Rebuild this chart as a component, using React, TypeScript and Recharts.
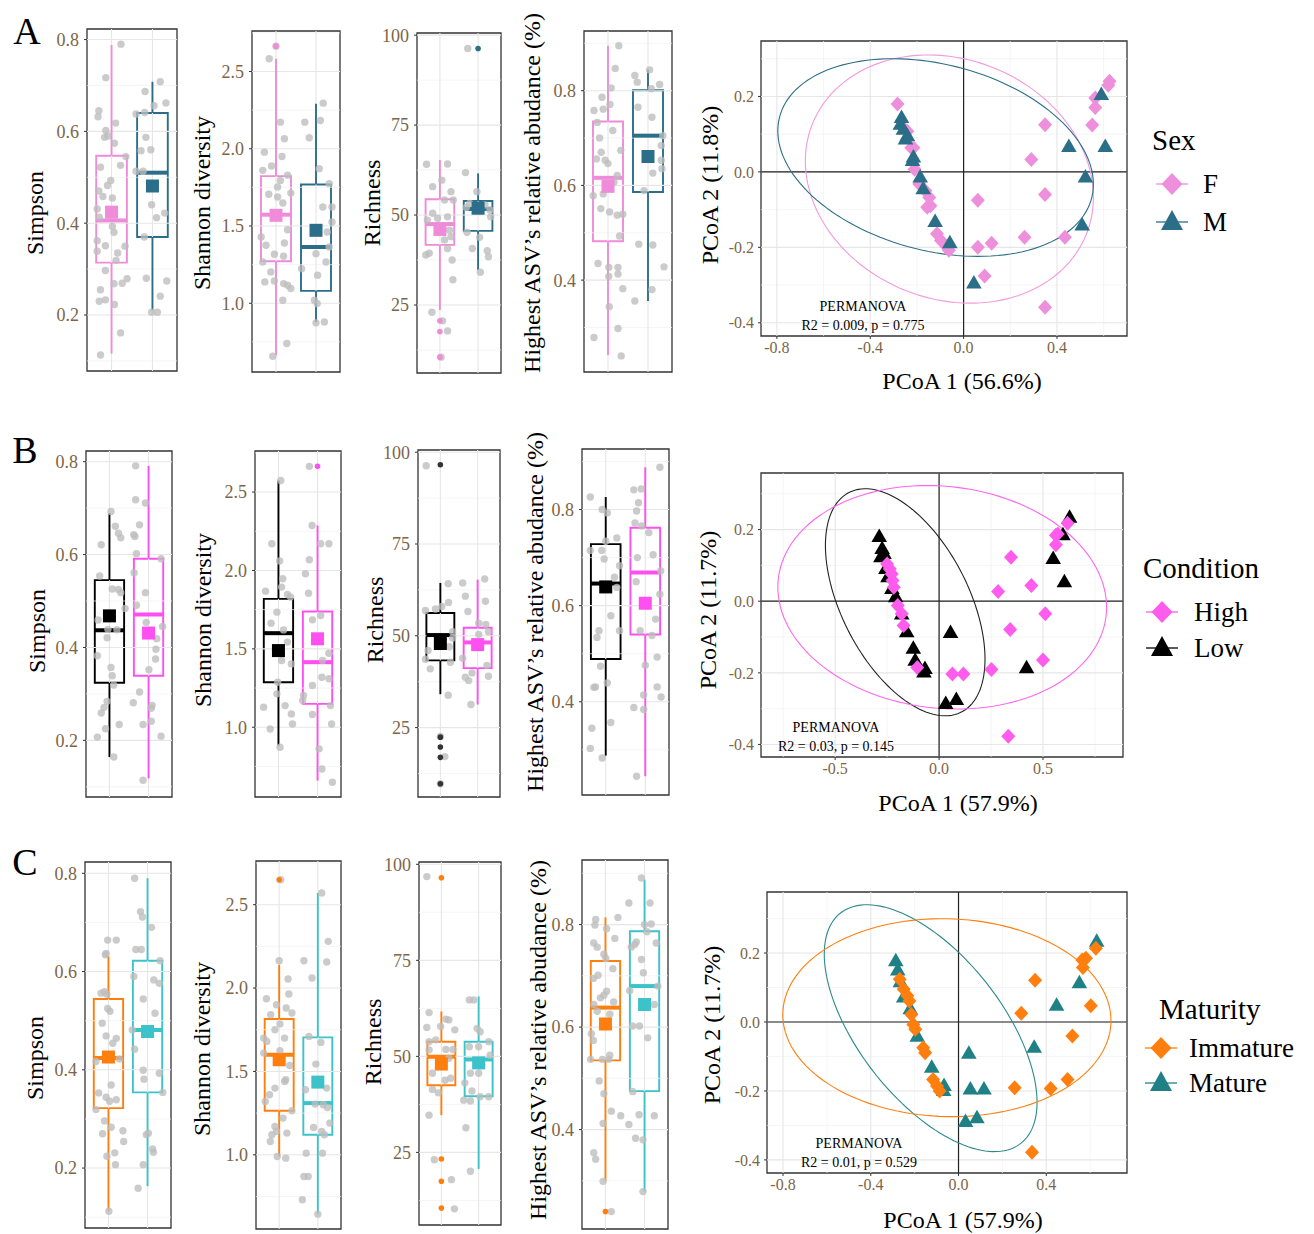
import React from 'react';
import { ComposedChart, XAxis, YAxis, Scatter, ReferenceLine, ReferenceArea } from 'recharts';

const SERIF = '"Liberation Serif", "DejaVu Serif", "Times New Roman", serif';
const TICK_COLOR = '#7D6547';

type Stat = { lo: number; q1: number; med: number; q3: number; hi: number; mean: number };
type Pt = [number, number];

// ---------------- metric axes ----------------
const metricLabels = ['Simpson', 'Shannon diversity', 'Richness', 'Highest ASV\u2019s relative abudance (%)'];
const metricDomains: [number, number][] = [[0.078, 0.823], [0.555, 2.762], [6.1, 100.6], [0.206, 0.926]];
const metricTicks = [[0.2, 0.4, 0.6, 0.8], [1.0, 1.5, 2.0, 2.5], [25, 50, 75, 100], [0.4, 0.6, 0.8]];
const metricMinor = [[0.1, 0.3, 0.5, 0.7], [0.75, 1.25, 1.75, 2.25, 2.75], [12.5, 37.5, 62.5, 87.5], [0.3, 0.5, 0.7, 0.9]];

// ---------------- Row A (Sex: F, M) ----------------
const boxColorsA = ['#F08BD9', '#2C6E8A'];
const simpsonStatsA: Stat[] = [
  { lo: 0.116, q1: 0.314, med: 0.406, q3: 0.547, hi: 0.788, mean: 0.424 },
  { lo: 0.21, q1: 0.37, med: 0.51, q3: 0.64, hi: 0.708, mean: 0.481 },
];
const simpsonPtsA: Pt[][] = [
  [[0.23,0.79],[-0.14,0.717],[-0.31,0.645],[-0.33,0.632],[0.1,0.618],[-0.14,0.602],[-0.17,0.587],[-0.09,0.59],[0.07,0.574],[0.35,0.545],[-0.27,0.522],[0.22,0.526],[-0.02,0.493],[-0.1,0.482],[-0.31,0.47],[-0.21,0.458],[0.02,0.455],[-0.35,0.431],[-0.3,0.413],[0.02,0.393],[0.06,0.38],[-0.35,0.362],[-0.15,0.351],[0.33,0.35],[0.15,0.335],[-0.35,0.339],[0.11,0.319],[-0.15,0.297],[0.38,0.279],[0.26,0.269],[0.06,0.268],[-0.27,0.255],[-0.3,0.23],[-0.15,0.233],[0.07,0.223],[0.22,0.161],[-0.27,0.113]],
  [[0.19,0.708],[-0.18,0.687],[-0.19,0.641],[0.04,0.656],[0.33,0.662],[-0.4,0.638],[-0.16,0.587],[-0.28,0.558],[-0.04,0.56],[-0.23,0.513],[-0.4,0.513],[-0.02,0.44],[0.1,0.412],[0.3,0.422],[-0.2,0.37],[-0.15,0.28],[0.35,0.274],[0.19,0.241],[-0.02,0.206],[0.12,0.206]],
];
const shannonStatsA: Stat[] = [
  { lo: 0.664, q1: 1.272, med: 1.573, q3: 1.823, hi: 2.582, mean: 1.569 },
  { lo: 0.879, q1: 1.08, med: 1.364, q3: 1.769, hi: 2.291, mean: 1.472 },
];
const shannonPtsA: Pt[][] = [
  [[0,2.664],[-0.17,2.582],[0.11,2.172],[0.21,2.065],[-0.29,1.978],[0.15,1.95],[-0.11,1.888],[-0.33,1.86],[0.29,1.828],[0.11,1.795],[0.04,1.752],[-0.18,1.705],[0.37,1.713],[0.04,1.688],[0.17,1.649],[0.29,1.476],[-0.37,1.429],[0.21,1.39],[-0.25,1.375],[-0.04,1.317],[0.19,1.304],[-0.33,1.267],[-0.13,1.203],[-0.28,1.138],[-0.04,1.144],[0.19,1.127],[0.29,1.116],[0.37,1.095],[0.17,1.019],[0.27,0.739],[-0.08,0.657]],
  [[-0.28,2.172],[0.11,2.183],[0.18,2.295],[-0.17,2.071],[0.08,1.871],[0.33,1.774],[0.17,1.623],[0.4,1.623],[0.4,1.526],[0.28,1.461],[0.33,1.364],[0,1.321],[-0.36,1.224],[0.25,1.267],[0.04,1.181],[-0.04,1.019],[0.03,0.998],[0.21,0.879],[0,0.873]],
];
const richnessStatsA: Stat[] = [
  { lo: 23.6, q1: 41.7, med: 47.5, q3: 54.4, hi: 65.3, mean: 46.0 },
  { lo: 34.7, q1: 45.6, med: 51.7, q3: 53.9, hi: 61.6, mean: 51.9 },
];
const richnessPtsA: Pt[][] = [
  [[-0.35,64.1],[-0.19,57.9],[0.05,59.7],[0.2,64.2],[0.29,56.5],[0.12,54.2],[-0.19,50.5],[-0.33,48.6],[-0.06,49.1],[0.2,49.5],[0.25,45.8],[0.12,43.1],[0.2,40.7],[-0.28,39.4],[-0.37,38.9],[0.29,44],[0.32,37.5],[0.34,32],[-0.21,23],[0.07,20.6],[0.2,17.8],[0.03,10.5],[0.35,54.2]],
  [[-0.33,61.8],[-0.03,56.5],[-0.31,52.1],[-0.22,53.2],[0.18,52.8],[0.31,51.4],[0.33,49.5],[-0.29,45.2],[0.04,43.8],[-0.15,40.7],[0.24,40.1],[0.27,38.4],[0.06,34.1],[-0.27,96.3]],
];
const richnessOutA = [[20.6, 17.6, 10.5], [96.3]];
const asvStatsA: Stat[] = [
  { lo: 0.242, q1: 0.482, med: 0.616, q3: 0.735, hi: 0.895, mean: 0.598 },
  { lo: 0.356, q1: 0.586, med: 0.705, q3: 0.801, hi: 0.844, mean: 0.661 },
];
const asvPtsA: Pt[][] = [
  [[0.27,0.895],[0.18,0.847],[0.08,0.806],[-0.15,0.786],[-0.35,0.758],[-0.12,0.761],[0.05,0.771],[0.12,0.716],[-0.27,0.733],[-0.21,0.7],[-0.17,0.67],[-0.07,0.653],[0,0.646],[-0.29,0.656],[0.32,0.674],[0.23,0.621],[0.15,0.607],[-0.12,0.582],[-0.37,0.578],[-0.18,0.551],[0.04,0.544],[0.23,0.537],[0.37,0.539],[0.29,0.493],[-0.25,0.435],[0.02,0.427],[0.25,0.427],[0.02,0.408],[0.25,0.413],[0.37,0.382],[0.03,0.344],[0.25,0.298],[-0.35,0.279],[0.33,0.24]],
  [[-0.33,0.832],[0.04,0.844],[-0.27,0.818],[0.08,0.804],[0.29,0.813],[-0.25,0.765],[0.1,0.744],[0.37,0.705],[0.33,0.684],[0.33,0.653],[0.35,0.635],[0.12,0.626],[-0.1,0.589],[-0.23,0.476],[0.12,0.474],[0.1,0.38],[-0.33,0.356],[0.4,0.428]],
];

// ---------------- Row B (Condition: Low, High) ----------------
const boxColorsB = ['#000000', '#FF4FF0'];
const simpsonStatsB: Stat[] = [
  { lo: 0.164, q1: 0.324, med: 0.437, q3: 0.545, hi: 0.689, mean: 0.468 },
  { lo: 0.118, q1: 0.339, med: 0.471, q3: 0.591, hi: 0.791, mean: 0.431 },
];
const simpsonPtsB: Pt[][] = [
  [[-0.21,0.621],[0.04,0.693],[0.15,0.661],[0.23,0.646],[0.29,0.636],[-0.25,0.554],[0.07,0.526],[0.23,0.525],[0.29,0.518],[0.4,0.484],[-0.29,0.459],[-0.04,0.439],[0.19,0.438],[-0.06,0.421],[-0.31,0.382],[0.04,0.357],[0.07,0.339],[0.11,0.319],[-0.06,0.284],[-0.14,0.271],[-0.21,0.259],[-0.1,0.225],[-0.31,0.207],[0.25,0.234],[0.11,0.164]],
  [[-0.33,0.791],[-0.33,0.718],[-0.08,0.711],[-0.38,0.643],[-0.35,0.639],[-0.23,0.664],[-0.37,0.561],[-0.31,0.602],[-0.08,0.518],[-0.31,0.491],[0.32,0.591],[0.36,0.445],[-0.06,0.454],[0.21,0.419],[0.19,0.396],[0.18,0.375],[0.01,0.352],[-0.23,0.304],[-0.39,0.281],[0.09,0.275],[0.07,0.269],[0.07,0.241],[-0.14,0.234],[0.32,0.209],[-0.14,0.114]],
];
const shannonStatsB: Stat[] = [
  { lo: 0.883, q1: 1.287, med: 1.6, q3: 1.819, hi: 2.574, mean: 1.489 },
  { lo: 0.66, q1: 1.149, med: 1.415, q3: 1.738, hi: 2.287, mean: 1.564 },
];
const shannonPtsB: Pt[][] = [
  [[0.06,2.574],[-0.17,2.17],[0.03,2.06],[0.11,1.947],[0.08,1.894],[-0.33,1.868],[-0.04,1.734],[0.23,1.847],[0.31,1.83],[0.13,1.621],[-0.19,1.664],[0.23,1.543],[0.08,1.426],[0.33,1.404],[-0.02,1.287],[-0.04,1.213],[-0.38,1.128],[0.17,1.138],[0.33,1.085],[-0.21,0.989],[0.36,1.021],[0.04,0.872]],
  [[-0.21,2.664],[-0.14,2.287],[-0.21,2.068],[-0.31,1.979],[-0.23,1.855],[0.08,2.17],[0.29,2.17],[0.08,1.713],[-0.13,1.685],[0.29,1.472],[0.13,1.426],[0.11,1.319],[0.29,1.309],[-0.13,1.266],[-0.36,1.202],[-0.38,1.17],[-0.13,1.081],[0.36,1.021],[0.33,1.138],[0.04,0.862],[0.11,0.734],[0.38,0.649]],
];
const shannonOutB = [[], [2.664]];
const richnessStatsB: Stat[] = [
  { lo: 34.1, q1: 43.3, med: 50.2, q3: 56.2, hi: 64.4, mean: 47.9 },
  { lo: 31.3, q1: 41.2, med: 48.2, q3: 52.2, hi: 65.3, mean: 47.6 },
];
const richnessPtsB: Pt[][] = [
  [[-0.38,96.3],[0.21,64.2],[-0.13,57.3],[-0.4,56.9],[0.04,58],[0.22,59.1],[0.33,51.1],[0.33,49.4],[0.24,47],[-0.33,46],[-0.4,43.6],[0.27,42.8],[-0.27,41],[0.21,33.8],[0,22.6],[0.12,17.1],[0,9.7]],
  [[-0.4,64.4],[-0.33,60.8],[0.19,65.5],[0.21,59.4],[-0.26,56.6],[0.03,53.4],[0.22,53.1],[0.29,51.1],[0.03,50.4],[-0.4,43.9],[-0.33,38.7],[-0.24,37.8],[-0.15,39.9],[0.25,41.9],[0.29,39],[-0.18,31.3]],
];
const richnessOutB = [[96.6, 22.4, 19.7, 16.9, 9.7], []];
const asvStatsB: Stat[] = [
  { lo: 0.288, q1: 0.489, med: 0.646, q3: 0.728, hi: 0.826, mean: 0.639 },
  { lo: 0.245, q1: 0.54, med: 0.669, q3: 0.762, hi: 0.888, mean: 0.605 },
];
const asvPtsB: Pt[][] = [
  [[-0.39,0.826],[-0.09,0.8],[0.04,0.793],[0.28,0.741],[0,0.734],[-0.1,0.715],[-0.04,0.697],[-0.39,0.715],[0.35,0.683],[0.22,0.659],[0.28,0.638],[0.13,0.579],[-0.17,0.548],[-0.22,0.534],[0.35,0.548],[-0.13,0.474],[0.04,0.439],[-0.3,0.43],[-0.26,0.431],[0.13,0.357],[-0.35,0.345],[-0.39,0.303],[-0.09,0.283]],
  [[0.37,0.888],[-0.29,0.841],[-0.1,0.843],[-0.17,0.814],[-0.22,0.797],[-0.26,0.772],[-0.09,0.766],[0.09,0.752],[-0.2,0.7],[0.2,0.706],[-0.23,0.65],[0.39,0.672],[0.37,0.624],[0.26,0.572],[-0.13,0.548],[0.17,0.538],[0.3,0.493],[0,0.476],[0.3,0.431],[0.4,0.41],[-0.04,0.414],[-0.29,0.388],[-0.04,0.384],[-0.22,0.245]],
];

// ---------------- Row C (Maturity: Immature, Mature) ----------------
const boxColorsC = ['#FF7F0E', '#3CC3CA'];
const simpsonStatsC: Stat[] = [
  { lo: 0.112, q1: 0.322, med: 0.424, q3: 0.544, hi: 0.631, mean: 0.426 },
  { lo: 0.163, q1: 0.354, med: 0.481, q3: 0.622, hi: 0.79, mean: 0.478 },
];
const simpsonPtsC: Pt[][] = [
  [[-0.02,0.664],[0.2,0.664],[-0.06,0.637],[-0.08,0.634],[-0.1,0.559],[-0.19,0.556],[-0.04,0.554],[-0.02,0.525],[0.04,0.519],[-0.16,0.495],[-0.06,0.469],[0.2,0.464],[0.11,0.454],[0.28,0.422],[-0.32,0.417],[0.07,0.369],[-0.25,0.353],[-0.06,0.344],[0.2,0.339],[0.03,0.336],[-0.32,0.319],[-0.1,0.296],[0.07,0.283],[-0.15,0.27],[0.37,0.276],[0.39,0.254],[0.16,0.231],[-0.04,0.224],[0.18,0.207],[0.01,0.112]],
  [[-0.33,0.79],[-0.18,0.722],[-0.13,0.711],[0.1,0.69],[-0.3,0.645],[-0.16,0.645],[0.32,0.622],[-0.35,0.59],[0.16,0.583],[0.3,0.576],[-0.11,0.544],[0.19,0.515],[-0.39,0.481],[-0.33,0.442],[-0.11,0.399],[-0.09,0.381],[0.3,0.393],[0.39,0.354],[-0.03,0.268],[0.02,0.271],[0.13,0.239],[0.15,0.232],[-0.11,0.207],[-0.24,0.159]],
];
const shannonStatsC: Stat[] = [
  { lo: 0.99, q1: 1.264, med: 1.6, q3: 1.814, hi: 2.14, mean: 1.57 },
  { lo: 0.644, q1: 1.12, med: 1.31, q3: 1.704, hi: 2.57, mean: 1.436 },
];
const shannonPtsC: Pt[][] = [
  [[0.04,2.65],[0,2.164],[0.23,2.054],[-0.33,1.936],[0.25,1.964],[-0.07,1.9],[0.18,1.88],[0.33,1.85],[-0.22,1.84],[0.02,1.784],[-0.11,1.75],[-0.4,1.7],[0.14,1.7],[-0.32,1.68],[-0.4,1.61],[0.02,1.624],[0.27,1.536],[0.17,1.45],[0.14,1.44],[-0.11,1.4],[-0.25,1.36],[-0.36,1.32],[0.33,1.264],[0.1,1.22],[-0.11,1.17],[-0.07,1.14],[-0.19,1.12],[0.2,1.13],[-0.23,1.08],[-0.05,0.99],[0.17,0.98]],
  [[0.1,2.57],[0.27,2.28],[-0.36,2.164],[0.23,2.156],[-0.15,2.06],[-0.23,1.71],[0.08,1.674],[-0.05,1.544],[0.23,1.4],[-0.32,1.39],[-0.07,1.304],[0.14,1.3],[0.25,1.284],[0.31,1.19],[-0.11,1.164],[0.1,1.14],[0.17,1.12],[0.12,1.01],[-0.3,1.01],[-0.25,0.87],[-0.36,0.87],[-0.4,0.73],[0,0.644]],
];
const shannonOutC = [[2.65], []];
const richnessStatsC: Stat[] = [
  { lo: 34.7, q1: 42.5, med: 49.9, q3: 53.8, hi: 61.7, mean: 48.0 },
  { lo: 20.7, q1: 39.6, med: 49.2, q3: 53.8, hi: 65.6, mean: 48.3 },
];
const richnessPtsC: Pt[][] = [
  [[-0.39,96.8],[-0.33,61.4],[0.12,59.7],[0.2,59.5],[-0.39,57.5],[-0.02,57.8],[0.36,56.9],[-0.33,53.8],[-0.15,54.3],[0.12,51.8],[0.31,51.8],[0.2,49.5],[-0.33,51.7],[-0.24,45.6],[0.25,44.3],[0.1,43.8],[-0.24,41.4],[-0.08,40.5],[-0.33,34.7],[-0.19,23.1],[0.27,17.9],[0.35,10.3]],
  [[-0.25,64.7],[-0.13,64.7],[-0.04,57.3],[0.04,56.4],[0.27,53.8],[-0.25,52.5],[0,52.5],[0.31,50.3],[0,45.6],[-0.22,45.6],[-0.37,43.1],[-0.18,41],[-0.4,38.6],[-0.22,38.4],[0.27,39.5],[0.04,39.5],[-0.34,31.4],[-0.22,20.1]],
];
const richnessOutC = [[96.5, 23.3, 17.5, 10.5], []];
const asvStatsC: Stat[] = [
  { lo: 0.3, q1: 0.535, med: 0.638, q3: 0.729, hi: 0.814, mean: 0.606 },
  { lo: 0.279, q1: 0.475, med: 0.68, q3: 0.787, hi: 0.888, mean: 0.644 },
];
const asvPtsC: Pt[][] = [
  [[-0.25,0.81],[-0.27,0.799],[0.03,0.792],[0.32,0.814],[0.24,0.773],[-0.3,0.764],[-0.21,0.756],[-0.04,0.742],[0.01,0.734],[0.19,0.714],[-0.19,0.701],[-0.31,0.695],[0.03,0.67],[-0.04,0.662],[-0.13,0.657],[0.21,0.649],[-0.3,0.644],[-0.21,0.631],[0.11,0.625],[-0.36,0.587],[-0.31,0.574],[-0.38,0.537],[-0.08,0.537],[0.09,0.537],[0.11,0.545],[-0.16,0.495],[-0.04,0.47],[0.15,0.436],[-0.06,0.412],[-0.3,0.355],[-0.25,0.342],[-0.06,0.299],[0.15,0.24],[0.39,0.427]],
  [[-0.08,0.891],[-0.4,0.842],[0.14,0.842],[0,0.8],[0.17,0.801],[0.06,0.786],[0.3,0.764],[-0.34,0.756],[-0.25,0.761],[-0.21,0.766],[-0.08,0.732],[-0.03,0.706],[0.34,0.68],[-0.38,0.671],[0.25,0.644],[-0.31,0.602],[-0.13,0.602],[0.08,0.579],[-0.3,0.474],[-0.14,0.429],[0.25,0.427],[-0.4,0.41],[-0.23,0.383],[-0.04,0.38],[-0.04,0.279]],
];
const asvOutC = [[0.24], []];

// ---------------- PCoA data ----------------
const pcoaA_F: Pt[] = [[-0.283,0.18],[0.625,0.24],[0.62,0.23],[0.564,0.196],[0.564,0.171],[0.551,0.124],[0.349,0.125],[0.29,0.033],[0.349,-0.06],[0.061,-0.075],[0.434,-0.173],[0.261,-0.173],[0.12,-0.189],[0.061,-0.2],[0.09,-0.276],[0.349,-0.359],[-0.258,0.117],[-0.241,0.108],[-0.224,0.064],[-0.215,0.064],[-0.21,0.007],[-0.19,-0.032],[-0.164,-0.05],[-0.147,-0.068],[-0.142,-0.09],[-0.156,-0.094],[-0.114,-0.164],[-0.097,-0.182],[-0.071,-0.199],[-0.063,-0.208]];
const pcoaA_M: Pt[] = [[-0.266,0.143],[-0.271,0.125],[-0.258,0.112],[-0.241,0.095],[-0.249,0.086],[-0.215,0.038],[-0.219,0.029],[-0.186,-0.015],[-0.173,-0.046],[-0.122,-0.133],[-0.059,-0.189],[0.044,-0.296],[0.451,0.066],[0.607,0.066],[0.522,-0.015],[0.508,-0.142],[0.59,0.204]];
const pcoaB_High: Pt[] = [[0.618,0.218],[0.571,0.188],[0.562,0.184],[0.562,0.158],[0.346,0.123],[0.444,0.044],[0.284,0.027],[0.511,-0.035],[0.342,-0.079],[0.5,-0.164],[0.252,-0.191],[0.064,-0.203],[0.117,-0.203],[0.333,-0.377],[-0.25,0.104],[-0.237,0.09],[-0.228,0.076],[-0.224,0.058],[-0.218,0.039],[-0.199,-0.012],[-0.18,-0.035],[-0.171,-0.068],[-0.105,-0.185]];
const pcoaB_Low: Pt[] = [[-0.288,0.179],[-0.274,0.146],[-0.265,0.132],[-0.28,0.123],[-0.256,0.09],[-0.246,0.067],[-0.227,0.034],[-0.209,0.011],[-0.18,-0.037],[-0.156,-0.087],[-0.124,-0.133],[-0.115,-0.166],[-0.068,-0.189],[-0.073,-0.199],[0.055,-0.089],[0.032,-0.287],[0.083,-0.276],[0.421,-0.187],[0.628,0.233],[0.596,0.184],[0.549,0.118],[0.603,0.053]];
const pcoaC_Imm: Pt[] = [[0.626,0.214],[0.581,0.185],[0.564,0.18],[0.567,0.158],[0.349,0.121],[0.603,0.047],[0.286,0.025],[0.519,-0.041],[0.497,-0.167],[0.42,-0.193],[0.256,-0.191],[0.335,-0.378],[-0.268,0.124],[-0.25,0.095],[-0.233,0.076],[-0.224,0.061],[-0.215,0.022],[-0.206,-0.007],[-0.197,-0.021],[-0.161,-0.075],[-0.152,-0.089],[-0.116,-0.167],[-0.098,-0.186],[-0.086,-0.2]];
const pcoaC_Mat: Pt[] = [[-0.286,0.176],[-0.277,0.149],[-0.265,0.115],[-0.25,0.071],[-0.22,0.037],[-0.188,-0.043],[-0.122,-0.133],[-0.066,-0.186],[-0.068,-0.2],[0.047,-0.092],[0.054,-0.196],[0.116,-0.196],[0.032,-0.29],[0.084,-0.279],[0.345,-0.075],[0.447,0.047],[0.551,0.112],[0.63,0.233]];

type Ell = { cx: number; cy: number; rx: number; ry: number; rho: number };
const ellA_F: Ell = { cx: -0.061, cy: -0.019, rx: 0.617, ry: 0.329, rho: -0.146 };
const ellA_M: Ell = { cx: -0.12, cy: 0.038, rx: 0.676, ry: 0.262, rho: -0.27 };
const ellB_High: Ell = { cx: 0.015, cy: 0.011, rx: 0.791, ry: 0.312, rho: -0.09 };
const ellB_Low: Ell = { cx: -0.163, cy: -0.003, rx: 0.384, ry: 0.317, rho: -0.5 };
const ellC_Imm: Ell = { cx: -0.053, cy: 0.0125, rx: 0.748, ry: 0.287, rho: -0.03 };
const ellC_Mat: Ell = { cx: -0.127, cy: -0.018, rx: 0.485, ry: 0.358, rho: -0.6 };

// ---------------- shapes ----------------
const GreyDot = (p: any) => <circle cx={p.cx} cy={p.cy} r={3.7} fill="#BDBDBD" fillOpacity={0.78} />;
const makeSquare = (col: string) => (p: any) => <rect x={p.cx - 6.5} y={p.cy - 6.5} width={13} height={13} fill={col} />;
const makeSmallDot = (col: string) => (p: any) => <circle cx={p.cx} cy={p.cy} r={2.8} fill={col} />;
const makeDiamond = (col: string) => (p: any) => (
  <polygon points={`${p.cx},${p.cy - 7.5} ${p.cx + 7},${p.cy} ${p.cx},${p.cy + 7.5} ${p.cx - 7},${p.cy}`} fill={col} />
);
const makeTriangle = (col: string) => (p: any) => (
  <polygon points={`${p.cx},${p.cy - 8.5} ${p.cx + 7.8},${p.cy + 5} ${p.cx - 7.8},${p.cy + 5}`} fill={col} />
);
const NoShape = () => <g />;

const ellipsePoints = (e: Ell) => {
  const phi = Math.acos(e.rho);
  const out: { x: number; y: number }[] = [];
  for (let i = 0; i <= 140; i++) {
    const t = (i / 140) * 2 * Math.PI;
    out.push({ x: e.cx + e.rx * Math.cos(t), y: e.cy + e.ry * Math.cos(t + phi) });
  }
  return out;
};

// ---------------- Box panel ----------------
type BoxSpec = {
  metric: number;
  frame: [number, number, number, number];
  stats: Stat[];
  pts: Pt[][];
  outliers: number[][];
  colors: string[];
  outColors: string[];
};

function BoxPanel({ spec }: { spec: BoxSpec }) {
  const [x0, y0, x1, y1] = spec.frame;
  const padL = 50, padT = 10, padR = 6, padB = 6;
  const w = x1 - x0 + padL + padR;
  const h = y1 - y0 + padT + padB;
  const m = spec.metric;
  const dom = metricDomains[m];
  const fmt = (v: number) => (m === 2 ? String(v) : v.toFixed(1));
  return (
    <div style={{ position: 'absolute', left: x0 - padL, top: y0 - padT, width: w, height: h }}>
      <ComposedChart width={w} height={h} margin={{ top: padT, right: padR, bottom: padB, left: 0 }}>
        <XAxis type="number" dataKey="x" domain={[0.4, 2.6]} hide allowDataOverflow />
        <YAxis
          type="number" dataKey="y" domain={dom} ticks={metricTicks[m]} allowDataOverflow width={padL}
          axisLine={false} tickLine={{ stroke: '#333' }} tickSize={3} tickMargin={5} interval={0}
          tick={{ fill: TICK_COLOR, fontSize: 18, fontFamily: SERIF }} tickFormatter={fmt}
        />
        {metricMinor[m].map((v) => <ReferenceLine key={`mn${v}`} y={v} stroke="#F1F1F1" strokeWidth={0.7} />)}
        {metricTicks[m].map((v) => <ReferenceLine key={`mj${v}`} y={v} stroke="#E6E6E6" strokeWidth={1.1} />)}
        {[1, 2].map((c) => <ReferenceLine key={`vx${c}`} x={c} stroke="#E6E6E6" strokeWidth={1.1} />)}
        {spec.pts.map((g, gi) => (
          <Scatter key={`j${gi}`} data={g.map(([dx, v]) => ({ x: gi + 1 + dx, y: v }))} shape={GreyDot} isAnimationActive={false} />
        ))}
        {spec.stats.map((s, gi) => {
          const c = gi + 1;
          const col = spec.colors[gi];
          return (
            <React.Fragment key={`b${gi}`}>
              <ReferenceLine segment={[{ x: c, y: s.lo }, { x: c, y: s.q1 }]} stroke={col} strokeWidth={1.9} />
              <ReferenceLine segment={[{ x: c, y: s.q3 }, { x: c, y: s.hi }]} stroke={col} strokeWidth={1.9} />
              <ReferenceArea x1={c - 0.375} x2={c + 0.375} y1={s.q1} y2={s.q3} fill="none" fillOpacity={0} stroke={col} strokeWidth={1.9} ifOverflow="visible" />
              <ReferenceLine segment={[{ x: c - 0.375, y: s.med }, { x: c + 0.375, y: s.med }]} stroke={col} strokeWidth={4} />
            </React.Fragment>
          );
        })}
        {spec.outliers.map((o, gi) => (
          <Scatter key={`o${gi}`} data={o.map((v) => ({ x: gi + 1, y: v }))} shape={makeSmallDot(spec.outColors[gi])} isAnimationActive={false} />
        ))}
        {spec.stats.map((s, gi) => (
          <Scatter key={`m${gi}`} data={[{ x: gi + 1, y: s.mean }]} shape={makeSquare(spec.colors[gi])} isAnimationActive={false} />
        ))}
        <ReferenceArea x1={0.4} x2={2.6} y1={dom[0]} y2={dom[1]} fill="none" fillOpacity={0} stroke="#333" strokeWidth={1.3} ifOverflow="visible" />
      </ComposedChart>
    </div>
  );
}

// ---------------- PCoA panel ----------------
type PGroup = { name: string; color: string; ellColor: string; shape: 'diamond' | 'triangle'; pts: Pt[]; ell: Ell };
type PcoaSpec = {
  frame: [number, number, number, number];
  xDomain: [number, number];
  yDomain: [number, number];
  xTicks: number[];
  xMinor: number[];
  groups: PGroup[]; // drawing order
};
const pcoaYTicks = [-0.4, -0.2, 0.0, 0.2];
const pcoaYMinor = [-0.3, -0.1, 0.1, 0.3];

function PcoaPanel({ spec }: { spec: PcoaSpec }) {
  const [x0, y0, x1, y1] = spec.frame;
  const padL = 50, padT = 6, padR = 6, padB = 30;
  const w = x1 - x0 + padL + padR;
  const h = y1 - y0 + padT + padB;
  const fmt = (v: number) => (Math.abs(v) < 1e-9 ? '0.0' : v.toFixed(1));
  const tickStyle = { fill: TICK_COLOR, fontSize: 16, fontFamily: SERIF };
  return (
    <div style={{ position: 'absolute', left: x0 - padL, top: y0 - padT, width: w, height: h }}>
      <ComposedChart width={w} height={h} margin={{ top: padT, right: padR, bottom: 0, left: 0 }}>
        <XAxis type="number" dataKey="x" domain={spec.xDomain} ticks={spec.xTicks} allowDataOverflow height={padB}
          axisLine={false} tickLine={{ stroke: '#333' }} tickSize={3} tickMargin={3} interval={0} tick={tickStyle} tickFormatter={fmt} />
        <YAxis type="number" dataKey="y" domain={spec.yDomain} ticks={pcoaYTicks} allowDataOverflow width={padL}
          axisLine={false} tickLine={{ stroke: '#333' }} tickSize={3} tickMargin={4} interval={0} tick={tickStyle} tickFormatter={fmt} />
        {pcoaYMinor.map((v) => <ReferenceLine key={`ym${v}`} y={v} stroke="#F1F1F1" strokeWidth={0.7} />)}
        {spec.xMinor.map((v) => <ReferenceLine key={`xm${v}`} x={v} stroke="#F1F1F1" strokeWidth={0.7} />)}
        {pcoaYTicks.map((v) => <ReferenceLine key={`yj${v}`} y={v} stroke="#E6E6E6" strokeWidth={1.1} />)}
        {spec.xTicks.map((v) => <ReferenceLine key={`xj${v}`} x={v} stroke="#E6E6E6" strokeWidth={1.1} />)}
        <ReferenceLine x={0} stroke="#222" strokeWidth={1.2} />
        <ReferenceLine y={0} stroke="#222" strokeWidth={1.2} />
        {spec.groups.map((g) => (
          <Scatter key={`e${g.name}`} data={ellipsePoints(g.ell)} line={{ stroke: g.ellColor, strokeWidth: 1.1 }} lineType="joint"
            shape={NoShape} isAnimationActive={false} />
        ))}
        {spec.groups.map((g) => (
          <Scatter key={`p${g.name}`} data={g.pts.map(([x, y]) => ({ x, y }))}
            shape={g.shape === 'diamond' ? makeDiamond(g.color) : makeTriangle(g.color)} isAnimationActive={false} />
        ))}
        <ReferenceArea x1={spec.xDomain[0]} x2={spec.xDomain[1]} y1={spec.yDomain[0]} y2={spec.yDomain[1]}
          fill="none" fillOpacity={0} stroke="#333" strokeWidth={1.3} ifOverflow="visible" />
      </ComposedChart>
    </div>
  );
}

// ---------------- layout specs ----------------
const boxPanels: BoxSpec[] = [
  { metric: 0, frame: [87, 29, 177, 371], stats: simpsonStatsA, pts: simpsonPtsA, outliers: [[], []], colors: boxColorsA, outColors: boxColorsA },
  { metric: 1, frame: [252, 31, 340, 372], stats: shannonStatsA, pts: shannonPtsA, outliers: [[2.664], []], colors: boxColorsA, outColors: boxColorsA },
  { metric: 2, frame: [417, 33, 501, 373], stats: richnessStatsA, pts: richnessPtsA, outliers: richnessOutA, colors: boxColorsA, outColors: boxColorsA },
  { metric: 3, frame: [584, 31, 672, 372], stats: asvStatsA, pts: asvPtsA, outliers: [[], []], colors: boxColorsA, outColors: boxColorsA },

  { metric: 0, frame: [86, 451, 172, 797], stats: simpsonStatsB, pts: simpsonPtsB, outliers: [[], []], colors: boxColorsB, outColors: ['#333', '#FF4FF0'] },
  { metric: 1, frame: [255, 451, 341, 797], stats: shannonStatsB, pts: shannonPtsB, outliers: shannonOutB, colors: boxColorsB, outColors: ['#333', '#FF4FF0'] },
  { metric: 2, frame: [418, 450, 500, 797], stats: richnessStatsB, pts: richnessPtsB, outliers: richnessOutB, colors: boxColorsB, outColors: ['#333', '#FF4FF0'] },
  { metric: 3, frame: [582, 449, 669, 795], stats: asvStatsB, pts: asvPtsB, outliers: [[], []], colors: boxColorsB, outColors: ['#333', '#FF4FF0'] },

  { metric: 0, frame: [85, 862, 171, 1228], stats: simpsonStatsC, pts: simpsonPtsC, outliers: [[], []], colors: boxColorsC, outColors: boxColorsC },
  { metric: 1, frame: [256, 861, 341, 1229], stats: shannonStatsC, pts: shannonPtsC, outliers: shannonOutC, colors: boxColorsC, outColors: boxColorsC },
  { metric: 2, frame: [419, 862, 501, 1225], stats: richnessStatsC, pts: richnessPtsC, outliers: richnessOutC, colors: boxColorsC, outColors: boxColorsC },
  { metric: 3, frame: [582, 860, 668, 1229], stats: asvStatsC, pts: asvPtsC, outliers: asvOutC, colors: boxColorsC, outColors: boxColorsC },
];

const boxLabelPos: [number, number][] = [
  [35, 213], [202, 203], [372, 203], [532, 193],
  [37, 631], [203, 620], [375, 620], [535, 612],
  [35, 1058], [202, 1049], [373, 1042], [538, 1040],
];

const pcoaPanels: PcoaSpec[] = [
  {
    frame: [761, 41, 1127, 336], xDomain: [-0.868, 0.7], yDomain: [-0.435, 0.347],
    xTicks: [-0.8, -0.4, 0.0, 0.4], xMinor: [-0.6, -0.2, 0.2, 0.6],
    groups: [
      { name: 'F', color: '#EE8FDC', ellColor: '#F29AE0', shape: 'diamond', pts: pcoaA_F, ell: ellA_F },
      { name: 'M', color: '#2B6E88', ellColor: '#2B6E88', shape: 'triangle', pts: pcoaA_M, ell: ellA_M },
    ],
  },
  {
    frame: [761, 473, 1123, 757], xDomain: [-0.857, 0.885], yDomain: [-0.435, 0.358],
    xTicks: [-0.5, 0.0, 0.5], xMinor: [-0.75, -0.25, 0.25, 0.75],
    groups: [
      { name: 'Low', color: '#000000', ellColor: '#222222', shape: 'triangle', pts: pcoaB_Low, ell: ellB_Low },
      { name: 'High', color: '#FF5CEE', ellColor: '#FF66EE', shape: 'diamond', pts: pcoaB_High, ell: ellB_High },
    ],
  },
  {
    frame: [767, 892, 1127, 1173], xDomain: [-0.873, 0.768], yDomain: [-0.438, 0.377],
    xTicks: [-0.8, -0.4, 0.0, 0.4], xMinor: [-0.6, -0.2, 0.2, 0.6],
    groups: [
      { name: 'Mature', color: '#1F8085', ellColor: '#2A8A8C', shape: 'triangle', pts: pcoaC_Mat, ell: ellC_Mat },
      { name: 'Immature', color: '#FF7F0E', ellColor: '#FF7F0E', shape: 'diamond', pts: pcoaC_Imm, ell: ellC_Imm },
    ],
  },
];

const pcoaYLabels = ['PCoA 2 (11.8%)', 'PCoA 2 (11.7%)', 'PCoA 2 (11.7%)'];
const pcoaXLabels = ['PCoA 1 (56.6%)', 'PCoA 1 (57.9%)', 'PCoA 1 (57.9%)'];
const pcoaYLabelPos: [number, number][] = [[710, 185], [708, 610], [712, 1025]];
const pcoaXLabelPos: [number, number][] = [[962, 381], [958, 803], [963, 1220]];
const permanovaStats = ['R2 = 0.009, p = 0.775', 'R2 = 0.03, p = 0.145', 'R2 = 0.01, p = 0.529'];
const permanovaPos: [number, number][] = [[863, 306], [836, 727], [859, 1143]];

type LegendSpec = { title: string; titleX: number; titleY: number; keyX: number; labelX: number; entries: { label: string; color: string; shape: 'diamond' | 'triangle'; y: number }[] };
const legends: LegendSpec[] = [
  { title: 'Sex', titleX: 1152, titleY: 140, keyX: 1172, labelX: 1203, entries: [
    { label: 'F', color: '#EE8FDC', shape: 'diamond', y: 184 },
    { label: 'M', color: '#2B6E88', shape: 'triangle', y: 222 },
  ] },
  { title: 'Condition', titleX: 1143, titleY: 568, keyX: 1162, labelX: 1194, entries: [
    { label: 'High', color: '#FF5CEE', shape: 'diamond', y: 612 },
    { label: 'Low', color: '#000000', shape: 'triangle', y: 648 },
  ] },
  { title: 'Maturity', titleX: 1159, titleY: 1009, keyX: 1161, labelX: 1189, entries: [
    { label: 'Immature', color: '#FF7F0E', shape: 'diamond', y: 1048 },
    { label: 'Mature', color: '#1F8085', shape: 'triangle', y: 1083 },
  ] },
];
const panelLetters = [{ t: 'A', x: 27, y: 31 }, { t: 'B', x: 25, y: 450 }, { t: 'C', x: 25, y: 862 }];

function Txt({ x, y, size, text, rotate, anchor = 'middle' }: { x: number; y: number; size: number; text: string; rotate?: boolean; anchor?: 'start' | 'middle' | 'end' }) {
  return (
    <text x={x} y={y} fontSize={size} fontFamily={SERIF} textAnchor={anchor} dominantBaseline="central" fill="#000"
      transform={rotate ? `rotate(-90 ${x} ${y})` : undefined}>{text}</text>
  );
}

export default function App() {
  return (
    <div style={{ position: 'absolute', left: 0, top: 0, width: 1314, height: 1234, background: '#fff', overflow: 'hidden' }}>
      {boxPanels.map((b, i) => <BoxPanel key={`box${i}`} spec={b} />)}
      {pcoaPanels.map((p, i) => <PcoaPanel key={`pc${i}`} spec={p} />)}
      <svg width={1314} height={1234} style={{ position: 'absolute', left: 0, top: 0, pointerEvents: 'none' }}>
        {panelLetters.map((l) => <Txt key={l.t} x={l.x} y={l.y} size={38} text={l.t} />)}
        {boxPanels.map((b, i) => (
          <Txt key={`bl${i}`} x={boxLabelPos[i][0]} y={boxLabelPos[i][1]} size={24} text={metricLabels[b.metric]} rotate />
        ))}
        {pcoaPanels.map((_, i) => (
          <React.Fragment key={`pl${i}`}>
            <Txt x={pcoaYLabelPos[i][0]} y={pcoaYLabelPos[i][1]} size={24} text={pcoaYLabels[i]} rotate />
            <Txt x={pcoaXLabelPos[i][0]} y={pcoaXLabelPos[i][1]} size={24} text={pcoaXLabels[i]} />
            <Txt x={permanovaPos[i][0]} y={permanovaPos[i][1]} size={14} text="PERMANOVA" />
            <Txt x={permanovaPos[i][0]} y={permanovaPos[i][1] + 19} size={14} text={permanovaStats[i]} />
          </React.Fragment>
        ))}
        {legends.map((lg) => (
          <g key={lg.title}>
            <Txt x={lg.titleX} y={lg.titleY} size={29} text={lg.title} anchor="start" />
            {lg.entries.map((e) => (
              <g key={e.label}>
                <line x1={lg.keyX - 16} x2={lg.keyX + 16} y1={e.y} y2={e.y} stroke={e.color} strokeWidth={1.3} />
                {e.shape === 'diamond' ? (
                  <polygon points={`${lg.keyX},${e.y - 11} ${lg.keyX + 10.5},${e.y} ${lg.keyX},${e.y + 11} ${lg.keyX - 10.5},${e.y}`} fill={e.color} />
                ) : (
                  <polygon points={`${lg.keyX},${e.y - 12} ${lg.keyX + 11},${e.y + 8} ${lg.keyX - 11},${e.y + 8}`} fill={e.color} />
                )}
                <Txt x={lg.labelX} y={e.y} size={27} text={e.label} anchor="start" />
              </g>
            ))}
          </g>
        ))}
      </svg>
    </div>
  );
}
